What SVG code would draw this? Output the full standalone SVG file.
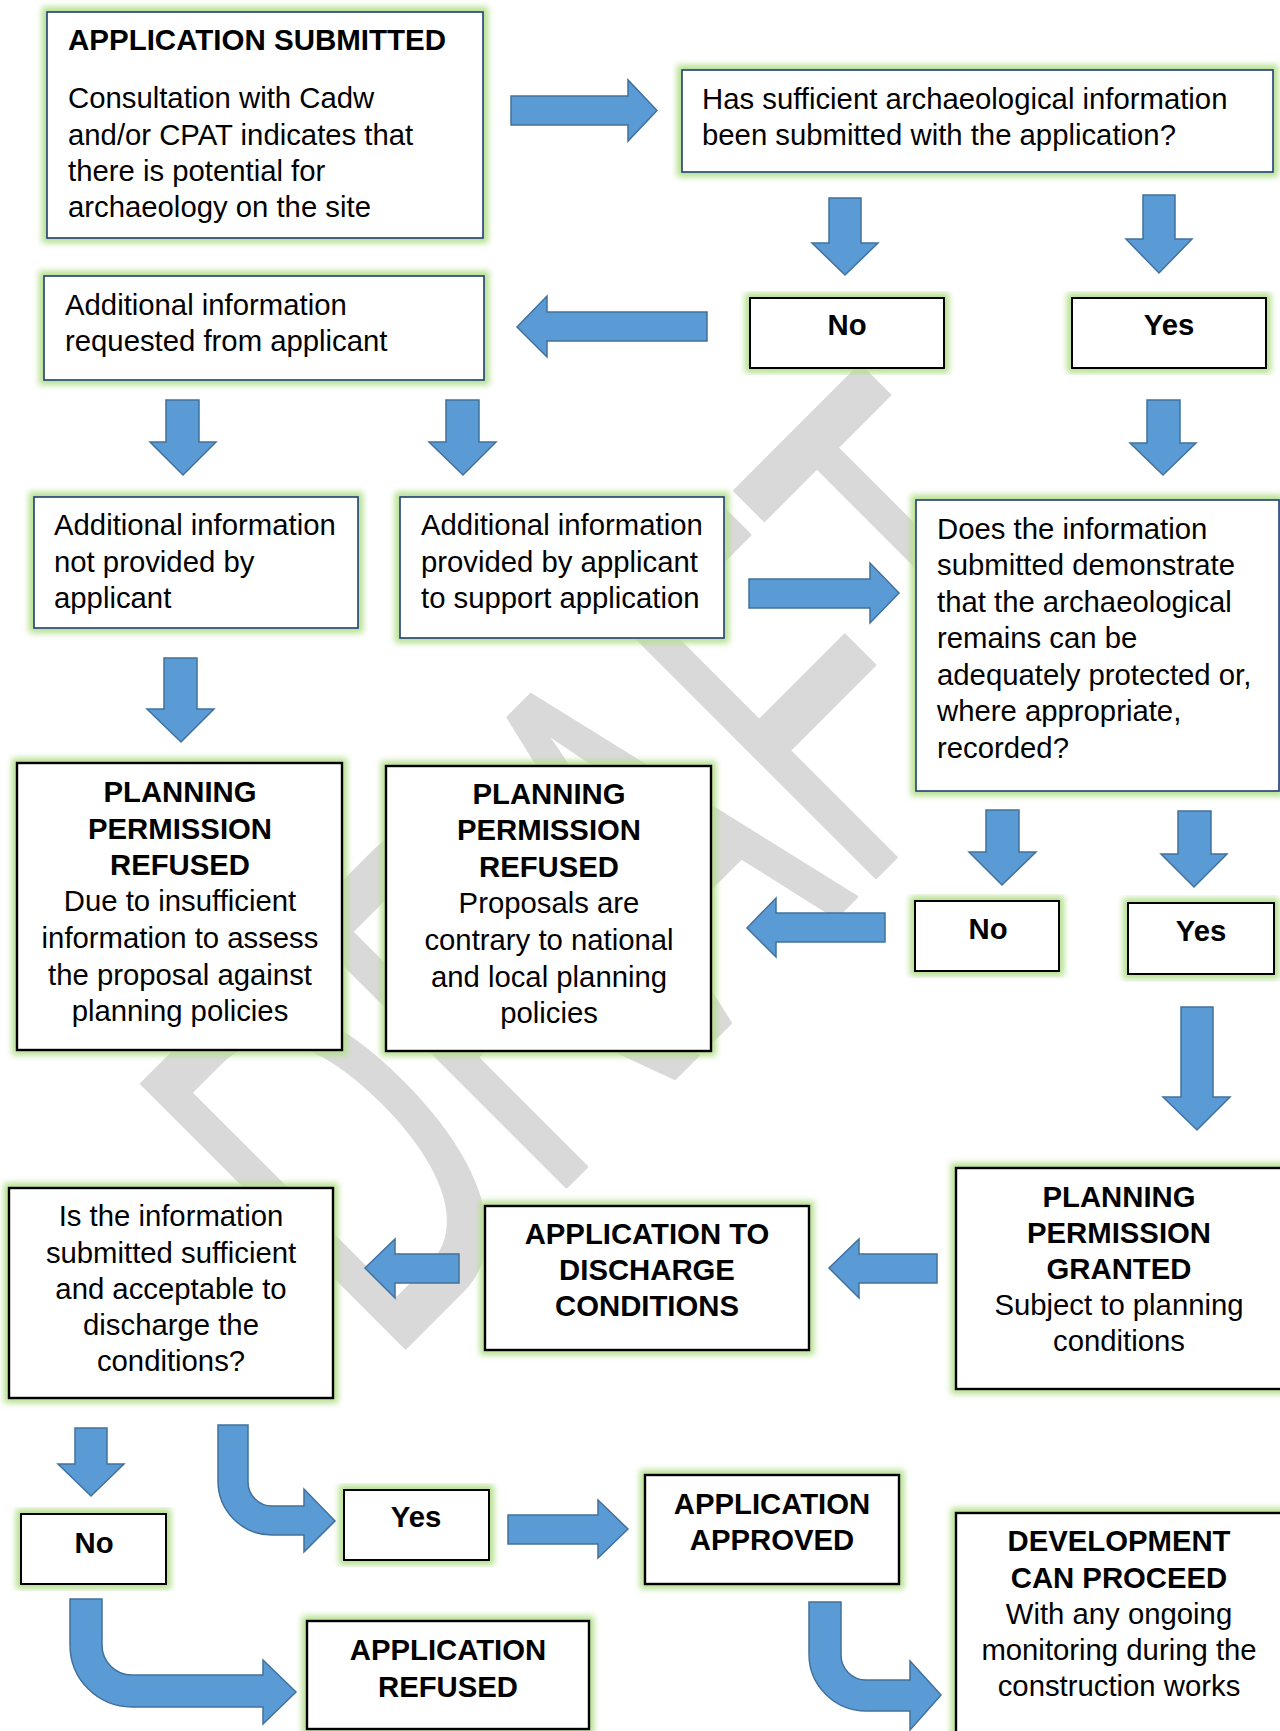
<svg xmlns="http://www.w3.org/2000/svg" width="1280" height="1731" viewBox="0 0 1280 1731">
<defs>
<filter id="blur" x="-10%" y="-10%" width="120%" height="120%"><feGaussianBlur stdDeviation="3"/></filter>
<style>
.glow{fill:none;stroke:#b3df8c;stroke-width:10;filter:url(#blur)}
.bb{fill:#fff;stroke:#203e79;stroke-width:1.6}
.kb{fill:#fff;stroke:#000;stroke-width:2.4}
.ar{fill:#5b9bd5;stroke:#41719c;stroke-width:1.5}
text{font-family:"Liberation Sans",Arial,sans-serif;font-size:29.3px;fill:#000}
.b{font-weight:bold}
.c{text-anchor:middle}
.wm{font-family:"Liberation Sans",Arial,sans-serif;font-size:315px;fill:#d9d9d9;stroke:#d9d9d9;stroke-width:3;stroke-linejoin:round}
</style>
</defs>
<rect width="1280" height="1731" fill="#fff"/>
<g id="watermark">
<text class="wm" transform="translate(413,1340) rotate(-45) scale(1,1.72)" x="-37" y="0" vector-effect="non-scaling-stroke">DRAFT</text>
</g>

<g id="n-submitted">
<rect class="glow" x="47" y="12" width="436" height="226"/>
<rect class="bb" x="47" y="12" width="436" height="226"/>
<text class="b" x="68" y="50" style="font-size:29.5px">APPLICATION SUBMITTED</text>
<text x="68" y="108">Consultation with Cadw</text>
<text x="68" y="145">and/or CPAT indicates that</text>
<text x="68" y="181">there is potential for</text>
<text x="68" y="217">archaeology on the site</text>
</g>
<g id="n-sufficient">
<rect class="glow" x="682" y="70" width="591" height="102"/>
<rect class="bb" x="682" y="70" width="591" height="102"/>
<text x="702" y="109">Has sufficient archaeological information</text>
<text x="702" y="145">been submitted with the application?</text>
</g>
<g id="n-no1">
<rect class="glow" x="750" y="298" width="194" height="70"/>
<rect class="kb" x="750" y="298" width="194" height="70" style="stroke-width:2"/>
<text class="b c" x="847" y="335">No</text>
</g>
<g id="n-yes1">
<rect class="glow" x="1072" y="298" width="194" height="70"/>
<rect class="kb" x="1072" y="298" width="194" height="70" style="stroke-width:2"/>
<text class="b c" x="1169" y="335">Yes</text>
</g>
<g id="n-requested">
<rect class="glow" x="44" y="276" width="440" height="104"/>
<rect class="bb" x="44" y="276" width="440" height="104"/>
<text x="65" y="315">Additional information</text>
<text x="65" y="351">requested from applicant</text>
</g>
<g id="n-notprovided">
<rect class="glow" x="34" y="497" width="324" height="131"/>
<rect class="bb" x="34" y="497" width="324" height="131"/>
<text x="54" y="535">Additional information</text>
<text x="54" y="572">not provided by</text>
<text x="54" y="608">applicant</text>
</g>
<g id="n-provided">
<rect class="glow" x="400" y="497" width="324" height="141"/>
<rect class="bb" x="400" y="497" width="324" height="141"/>
<text x="421" y="535">Additional information</text>
<text x="421" y="572">provided by applicant</text>
<text x="421" y="608">to support application</text>
</g>
<g id="n-demonstrate">
<rect class="glow" x="916" y="500" width="363" height="291"/>
<rect class="bb" x="916" y="500" width="363" height="291"/>
<text x="937" y="538.5">Does the information</text>
<text x="937" y="575">submitted demonstrate</text>
<text x="937" y="611.5">that the archaeological</text>
<text x="937" y="648">remains can be</text>
<text x="937" y="684.5">adequately protected or,</text>
<text x="937" y="721">where appropriate,</text>
<text x="937" y="757.5">recorded?</text>
</g>
<g id="n-refused1">
<rect class="glow" x="17" y="763" width="325" height="287"/>
<rect class="kb" x="17" y="763" width="325" height="287"/>
<text class="b c" x="180" y="802">PLANNING</text>
<text class="b c" x="180" y="839">PERMISSION</text>
<text class="b c" x="180" y="875">REFUSED</text>
<text class="c" x="180" y="911">Due to insufficient</text>
<text class="c" x="180" y="948">information to assess</text>
<text class="c" x="180" y="985">the proposal against</text>
<text class="c" x="180" y="1021">planning policies</text>
</g>
<g id="n-refused2">
<rect class="glow" x="386" y="766" width="325" height="285"/>
<rect class="kb" x="386" y="766" width="325" height="285"/>
<text class="b c" x="549" y="804">PLANNING</text>
<text class="b c" x="549" y="840">PERMISSION</text>
<text class="b c" x="549" y="877">REFUSED</text>
<text class="c" x="549" y="913">Proposals are</text>
<text class="c" x="549" y="950">contrary to national</text>
<text class="c" x="549" y="987">and local planning</text>
<text class="c" x="549" y="1023">policies</text>
</g>
<g id="n-no2">
<rect class="glow" x="915" y="901" width="144" height="70"/>
<rect class="kb" x="915" y="901" width="144" height="70" style="stroke-width:2"/>
<text class="b c" x="988" y="939">No</text>
</g>
<g id="n-yes2">
<rect class="glow" x="1128" y="903" width="146" height="71"/>
<rect class="kb" x="1128" y="903" width="146" height="71" style="stroke-width:2"/>
<text class="b c" x="1201" y="941">Yes</text>
</g>
<g id="n-granted">
<rect class="glow" x="956" y="1168" width="330" height="221"/>
<rect class="kb" x="956" y="1168" width="330" height="221"/>
<text class="b c" x="1119" y="1207">PLANNING</text>
<text class="b c" x="1119" y="1243">PERMISSION</text>
<text class="b c" x="1119" y="1279">GRANTED</text>
<text class="c" x="1119" y="1315">Subject to planning</text>
<text class="c" x="1119" y="1351">conditions</text>
</g>
<g id="n-discharge">
<rect class="glow" x="485" y="1206" width="324" height="144"/>
<rect class="kb" x="485" y="1206" width="324" height="144"/>
<text class="b c" x="647" y="1244">APPLICATION TO</text>
<text class="b c" x="647" y="1280">DISCHARGE</text>
<text class="b c" x="647" y="1316">CONDITIONS</text>
</g>
<g id="n-acceptable">
<rect class="glow" x="9" y="1188" width="324" height="210"/>
<rect class="kb" x="9" y="1188" width="324" height="210"/>
<text class="c" x="171" y="1226">Is the information</text>
<text class="c" x="171" y="1262.5">submitted sufficient</text>
<text class="c" x="171" y="1299">and acceptable to</text>
<text class="c" x="171" y="1335">discharge the</text>
<text class="c" x="171" y="1371">conditions?</text>
</g>
<g id="n-no3">
<rect class="glow" x="21" y="1514" width="145" height="70"/>
<rect class="kb" x="21" y="1514" width="145" height="70" style="stroke-width:2"/>
<text class="b c" x="94" y="1553">No</text>
</g>
<g id="n-yes3">
<rect class="glow" x="344" y="1490" width="145" height="70"/>
<rect class="kb" x="344" y="1490" width="145" height="70" style="stroke-width:2"/>
<text class="b c" x="416" y="1527">Yes</text>
</g>
<g id="n-approved">
<rect class="glow" x="645" y="1475" width="254" height="109"/>
<rect class="kb" x="645" y="1475" width="254" height="109"/>
<text class="b c" x="772" y="1514">APPLICATION</text>
<text class="b c" x="772" y="1550">APPROVED</text>
</g>
<g id="n-appRefused">
<rect class="glow" x="307" y="1621" width="282" height="108"/>
<rect class="kb" x="307" y="1621" width="282" height="108"/>
<text class="b c" x="448" y="1660">APPLICATION</text>
<text class="b c" x="448" y="1697">REFUSED</text>
</g>
<g id="n-proceed">
<rect class="glow" x="956" y="1513" width="330" height="230"/>
<rect class="kb" x="956" y="1513" width="330" height="230"/>
<text class="b c" x="1119" y="1551">DEVELOPMENT</text>
<text class="b c" x="1119" y="1588">CAN PROCEED</text>
<text class="c" x="1119" y="1624">With any ongoing</text>
<text class="c" x="1119" y="1660">monitoring during the</text>
<text class="c" x="1119" y="1696">construction works</text>
</g>

<g id="connectors">
<path class="ar" d="M511,96 H628 V80 L657,110.5 L628,141 V125 H511 Z"/>
<path class="ar" d="M829,198 H861 V243 H878 L845,275 L812,243 H829 Z"/>
<path class="ar" d="M1143,195 H1175 V239 H1192 L1159,273 L1126,239 H1143 Z"/>
<path class="ar" d="M707,312 H547 V296 L517,327 L547,357 V341 H707 Z"/>
<path class="ar" d="M166,400 H199 V442 H216 L183,475 L150,442 H166 Z"/>
<path class="ar" d="M446,400 H479 V442 H496 L463,475 L429,442 H446 Z"/>
<path class="ar" d="M1147,400 H1180 V443 H1196 L1163,475 L1130,443 H1147 Z"/>
<path class="ar" d="M749,579 H870 V563 L899,593 L870,623 V608 H749 Z"/>
<path class="ar" d="M164,658 H197 V709 H214 L181,742 L147,709 H164 Z"/>
<path class="ar" d="M986,810 H1019 V852 H1036 L1002,885 L969,852 H986 Z"/>
<path class="ar" d="M1178,811 H1211 V854 H1227 L1194,887 L1161,854 H1178 Z"/>
<path class="ar" d="M885,913 H776 V898 L747,928 L776,957 V942 H885 Z"/>
<path class="ar" d="M1181,1007 H1213 V1097 H1230 L1197,1130 L1163,1097 H1181 Z"/>
<path class="ar" d="M937,1254 H859 V1239 L829,1268 L859,1298 V1283 H937 Z"/>
<path class="ar" d="M459,1254 H395 V1239 L365,1268 L395,1298 V1283 H459 Z"/>
<path class="ar" d="M75,1428 H107 V1464 H124 L91,1496 L58,1464 H75 Z"/>
<path class="ar" d="M218,1425 H248 V1482 A24,24 0 0 0 272,1506 H304 V1489 L335,1521 L304,1552 V1535 H272 A54,54 0 0 1 218,1481 Z"/>
<path class="ar" d="M508,1515 H598 V1500 L628,1529 L598,1558 V1544 H508 Z"/>
<path class="ar" d="M70,1599 H102 V1645 A30,30 0 0 0 132,1675 H263 V1660 L296,1692 L263,1724 V1707 H132 A62,62 0 0 1 70,1645 Z"/>
<path class="ar" d="M809,1602 H841 V1655 A25,25 0 0 0 866,1680 H910 V1661 L941,1695 L910,1730 V1711 H866 A57,57 0 0 1 809,1654 Z"/>
</g>
</svg>
